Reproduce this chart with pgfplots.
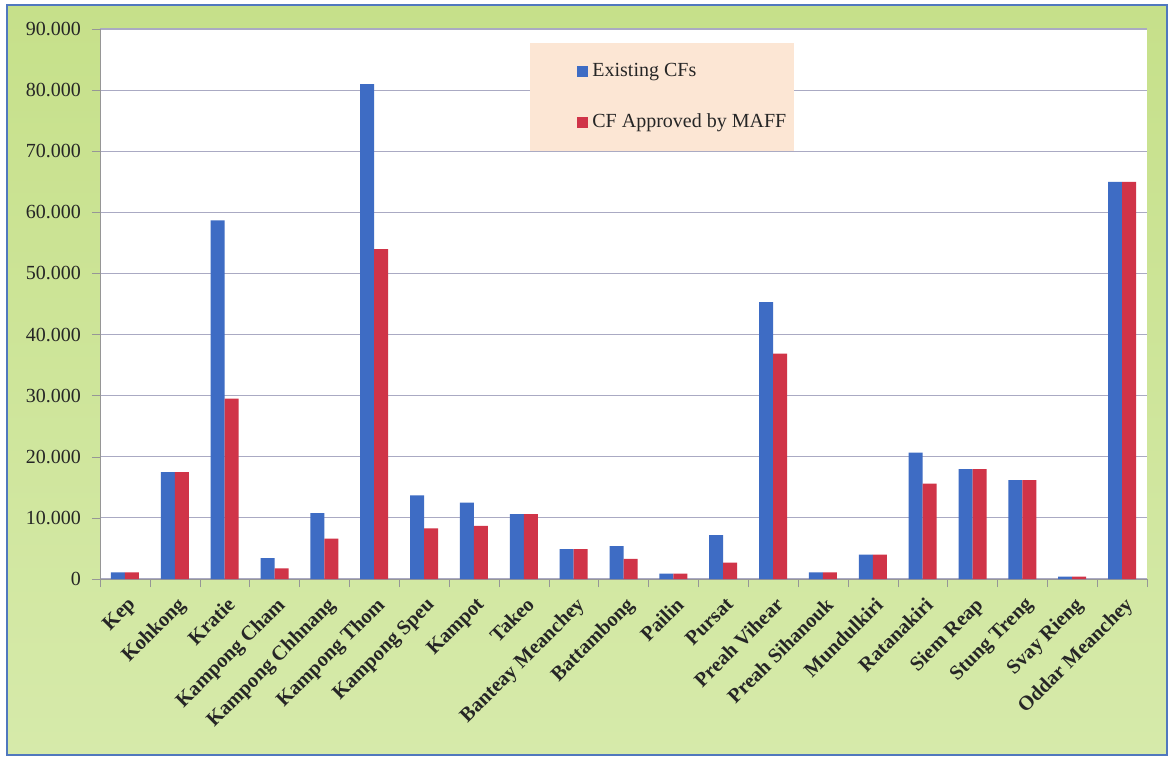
\documentclass[border=0pt]{standalone}
\usepackage{fontspec}
\setmainfont{Liberation Serif}
\usepackage{pgfplots}
\pgfplotsset{compat=1.18}

\definecolor{barblue}{RGB}{62,108,196}
\definecolor{barred}{RGB}{208,52,72}
\definecolor{greentop}{RGB}{198,224,138}
\definecolor{greenbot}{RGB}{214,234,170}
\definecolor{framecol}{RGB}{80,120,190}
\definecolor{peach}{RGB}{252,230,212}
\definecolor{gridcol}{RGB}{170,170,195}
\definecolor{axiscol}{RGB}{150,150,150}

\pgfplotstableread{
x  existing approved
0  1100   1100
1  17500  17500
2  58700  29500
3  3400   1750
4  10800  6600
5  81000  54000
6  13700  8300
7  12500  8700
8  10600  10600
9  4900   4900
10 5400   3300
11 900    900
12 7200   2700
13 45300  36900
14 1100   1100
15 4000   4000
16 20700  15600
17 18000  18000
18 16200  16200
19 400    400
20 65000  65000
}\cfdata

\begin{document}
\begin{tikzpicture}
\path[use as bounding box] (-50pt,-88.5pt) rectangle (536.5pt,289.5pt);
\fill[white] (-50pt,-88.5pt) rectangle (536.5pt,289.5pt);
\shade[top color=greentop, bottom color=greenbot] (-46.5pt,-88pt) rectangle (533.5pt,287pt);
\draw[framecol, line width=0.8pt] (-46.5pt,-88pt) rectangle (533.5pt,287pt);
\begin{axis}[
  at={(0pt,0pt)}, anchor=south west,
  scale only axis, width=523.5pt, height=275pt,
  axis background/.style={fill=white},
  ybar=0pt, bar width=7pt,
  xmin=-0.5, xmax=20.5, ymin=0, ymax=90000,
  axis x line*=bottom, axis y line*=left,
  axis line style={axiscol},
  tick align=outside,
  xtick={0,...,20},
  xticklabels={Kep, Kohkong, Kratie, Kampong Cham, Kampong Chhnang, Kampong Thom,
    Kampong Speu, Kampot, Takeo, Banteay Meanchey, Battambong, Pailin, Pursat,
    Preah Vihear, Preah Sihanouk, Mundulkiri, Ratanakiri, Siem Reap, Stung Treng,
    Svay Rieng, Oddar Meanchey},
  major x tick style={draw=none},
  minor xtick={-0.5,0.5,...,20.5},
  minor x tick style={axiscol},
  minor tick length=4pt,
  ytick={0,10000,...,90000},
  major tick length=4pt,
  ytick style={axiscol},
  ymajorgrids, grid style={gridcol, line width=0.6pt},
  scaled y ticks=false,
  /pgf/number format/1000 sep={.},
  /pgf/number format/assume math mode=true,
  y tick label style={font=\fontsize{10}{12}\selectfont, text=black!85, xshift=-2pt},
  x tick label style={rotate=45, anchor=north east, inner sep=1pt, xshift=-1.5pt, yshift=-2.5pt,
    font=\bfseries\fontsize{10.2}{12}\selectfont, text=black!85},
  legend image code/.code={\path (-21.5pt,0pt); \fill[#1,draw=none] (0pt,-2.75pt) rectangle (5.5pt,2.75pt);},
  legend style={at={(0.4107,0.9745)}, anchor=north west, draw=none, fill=peach,
    font=\fontsize{10}{12}\selectfont, text=black!85, inner xsep=2pt, inner ysep=8pt,
    row sep=13pt},
  legend cell align=left,
]
\addplot[fill=barblue, draw=none] table[x=x, y=existing] {\cfdata};
\addplot[fill=barred, draw=none] table[x=x, y=approved] {\cfdata};
\legend{Existing CFs, CF Approved by MAFF}
\end{axis}
\end{tikzpicture}
\end{document}
